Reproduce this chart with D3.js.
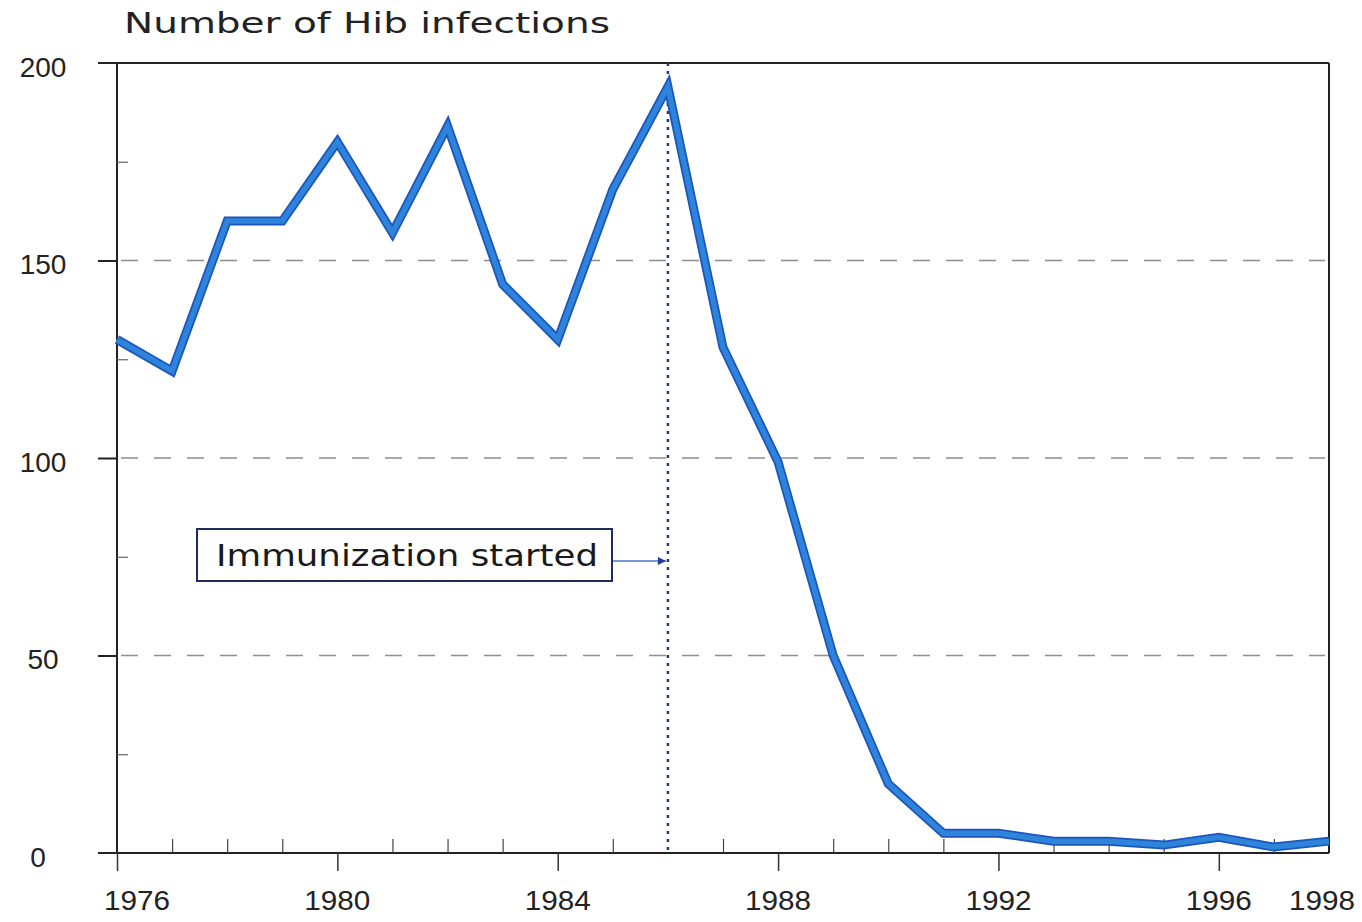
<!DOCTYPE html>
<html>
<head>
<meta charset="utf-8">
<script src="https://cdn.jsdelivr.net/npm/d3@7"></script>
<style>
    html, body { margin: 0; padding: 0; background: #fff; }
    svg { display: block; }
</style>
</head>
<body>
<div id="chart"></div>
<script>
// values
const years = [1976, 1977, 1978, 1979, 1980, 1981, 1982, 1983, 1984, 1985, 1986,
               1987, 1988, 1989, 1990, 1991, 1992, 1993, 1994, 1995, 1996, 1997, 1998];
const infections = [130, 122, 160, 160, 180, 157, 184, 144, 130, 168, 194,
                    128, 99, 50, 17.5, 5, 5, 3, 3, 2, 4, 1.5, 3];
const yLabels = [0, 50, 100, 150, 200];
const yMinorTicks = [25, 75, 125, 175];
const xLabels = [1976, 1980, 1984, 1988, 1992, 1996, 1998];
const xMajorTicks = [1976, 1980, 1984, 1988, 1992, 1996];
const xMinorTicks = [1977, 1978, 1979, 1981, 1982, 1983, 1985, 1987, 1989, 1990,
                     1991, 1993, 1994, 1995, 1997];
const gridValues = [50, 100, 150];
const immunizationYear = 1986;
const titleText = 'Number of Hib infections';
const noteText = 'Immunization started';

const width = 1362, height = 922;
const svg = d3.select('#chart')
    .append('svg')
    .attr('width', width)
    .attr('height', height);

const x = d3.scaleLinear().domain([1976, 1998]).range([117, 1329]);
const y = d3.scaleLinear().domain([0, 200]).range([853, 63]);

// arrow head
svg.append('defs').append('marker')
    .attr('id', 'arrow')
    .attr('viewBox', '0 0 10 10')
    .attr('refX', 10).attr('refY', 5)
    .attr('markerWidth', 16).attr('markerHeight', 8)
    .attr('markerUnits', 'userSpaceOnUse')
    .attr('orient', 'auto')
    .append('path')
    .attr('d', 'M0,0 L10,5 L0,10 Z')
    .attr('fill', '#1d3c9a');

// title
svg.append('text')
    .attr('x', 124)
    .attr('y', 33)
    .attr('textLength', 486)
    .attr('lengthAdjust', 'spacingAndGlyphs')
    .style('font-family', 'DejaVu Sans, sans-serif')
    .style('font-size', '28px')
    .attr('fill', '#222')
    .text(titleText);

// dashed gridlines
svg.selectAll('.grid')
    .data(gridValues)
    .enter().append('line')
    .attr('class', 'grid')
    .attr('x1', x(1976) + 4)
    .attr('x2', x(1998) - 4)
    .attr('y1', d => y(d))
    .attr('y2', d => y(d))
    .attr('stroke', '#8d8d8d')
    .attr('stroke-width', 1.5)
    .attr('stroke-dasharray', '17,16');

// frame: top, right, left axis, baseline
const frame = svg.append('g')
    .attr('stroke', '#222')
    .attr('stroke-width', 2);
frame.append('line')
    .attr('x1', 98).attr('x2', x(1998))
    .attr('y1', y(200)).attr('y2', y(200));
frame.append('line')
    .attr('x1', x(1998)).attr('x2', x(1998))
    .attr('y1', y(200)).attr('y2', y(0));
frame.append('line')
    .attr('x1', x(1976)).attr('x2', x(1976))
    .attr('y1', y(200)).attr('y2', y(0));
frame.append('line')
    .attr('x1', 98).attr('x2', x(1998))
    .attr('y1', y(0)).attr('y2', y(0));

// x axis ticks
svg.append('g')
    .attr('transform', `translate(0,${y(0)})`)
    .call(d3.axisBottom(x).tickValues(xMajorTicks).tickSize(18).tickFormat(''))
    .call(g => g.select('.domain').remove())
    .call(g => g.selectAll('.tick line').attr('stroke', '#333').attr('stroke-width', 1.5));

svg.append('g')
    .attr('transform', `translate(0,${y(0)})`)
    .call(d3.axisBottom(x).tickValues(xMinorTicks).tickSize(-14).tickFormat(''))
    .call(g => g.select('.domain').remove())
    .call(g => g.selectAll('.tick line').attr('stroke', '#444').attr('stroke-width', 1.2));

// y axis ticks
svg.append('g')
    .attr('transform', `translate(${x(1976)},0)`)
    .call(d3.axisLeft(y).tickValues(gridValues).tickSize(19).tickFormat(''))
    .call(g => g.select('.domain').remove())
    .call(g => g.selectAll('.tick line').attr('stroke', '#222').attr('stroke-width', 2));

svg.append('g')
    .attr('transform', `translate(${x(1976)},0)`)
    .call(d3.axisLeft(y).tickValues(yMinorTicks).tickSize(-11).tickFormat(''))
    .call(g => g.select('.domain').remove())
    .call(g => g.selectAll('.tick line').attr('stroke', '#666').attr('stroke-width', 1.2));

// tick labels
svg.selectAll('.ylabel')
    .data(yLabels)
    .enter().append('text')
    .attr('class', 'ylabel')
    .attr('x', d => d === 0 ? 38 : 43)
    .attr('y', d => y(d) + 4)
    .attr('text-anchor', 'middle')
    .attr('dominant-baseline', 'central')
    .style('font-family', 'Liberation Sans, Arial, sans-serif')
    .style('font-size', '28px')
    .attr('fill', '#222')
    .text(d => d);

svg.selectAll('.xlabel')
    .data(xLabels)
    .enter().append('text')
    .attr('class', 'xlabel')
    .attr('x', (d, i) => x(d) + (i === 0 ? 20 : i === xLabels.length - 1 ? -7 : 0))
    .attr('y', 910)
    .attr('text-anchor', 'middle')
    .style('font-family', 'Liberation Sans, Arial, sans-serif')
    .style('font-size', '28px')
    .attr('textLength', 66)
    .attr('lengthAdjust', 'spacingAndGlyphs')
    .attr('fill', '#222')
    .text(d => d);

// immunization marker
svg.append('line')
    .attr('x1', x(immunizationYear)).attr('x2', x(immunizationYear))
    .attr('y1', y(200)).attr('y2', y(0))
    .attr('stroke', '#24378a')
    .attr('stroke-width', 2.5)
    .attr('stroke-dasharray', '3,5');

// data line
const line = d3.line()
    .x((d, i) => x(years[i]))
    .y(d => y(d));

svg.append('path')
    .datum(infections)
    .attr('fill', 'none')
    .attr('stroke', '#1c55bd')
    .attr('stroke-width', 9)
    .attr('stroke-linejoin', 'miter')
    .attr('d', line);

svg.append('path')
    .datum(infections)
    .attr('fill', 'none')
    .attr('stroke', '#2d84da')
    .attr('stroke-width', 5.5)
    .attr('stroke-linejoin', 'miter')
    .attr('d', line);

// annotation box
svg.append('rect')
    .attr('x', 197)
    .attr('y', 529)
    .attr('width', 415)
    .attr('height', 52)
    .attr('fill', '#fff')
    .attr('stroke', '#1f2d5c')
    .attr('stroke-width', 2);

svg.append('text')
    .attr('x', 216)
    .attr('y', 566)
    .attr('textLength', 382)
    .attr('lengthAdjust', 'spacingAndGlyphs')
    .style('font-family', 'DejaVu Sans, sans-serif')
    .style('font-size', '30px')
    .attr('fill', '#1a1a1a')
    .text(noteText);

svg.append('line')
    .attr('x1', 613).attr('x2', x(immunizationYear) - 2)
    .attr('y1', 561).attr('y2', 561)
    .attr('stroke', '#4a78c8')
    .attr('stroke-width', 1.5)
    .attr('marker-end', 'url(#arrow)');
</script>
</body>
</html>
